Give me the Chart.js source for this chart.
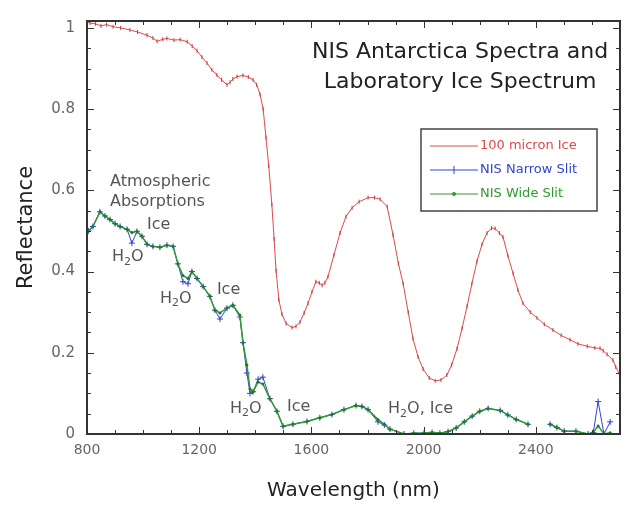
<!DOCTYPE html>
<html>
<head>
<meta charset="utf-8">
<script src="https://cdn.jsdelivr.net/npm/chart.js@4.4.0/dist/chart.umd.min.js"></script>
<style>
  html, body { margin: 0; padding: 0; background: #fff; }
  canvas { display: block; }
</style>
</head>
<body>
<canvas id="myChart" width="628" height="508"></canvas>
<script>
// 100 micron lab ice spectrum
const iceWave = [800, 811, 830, 850, 870, 893, 920, 953, 980, 1014, 1035, 1050, 1070, 1085, 1110, 1132, 1157, 1175, 1192, 1210,
  1228, 1245, 1263, 1280, 1299, 1310, 1320, 1335, 1356, 1375, 1392, 1405, 1417, 1428, 1438, 1448, 1459, 1467, 1474, 1484,
  1495, 1510, 1531, 1545, 1559, 1574, 1588, 1602, 1616, 1628, 1638, 1648, 1659, 1680, 1702, 1723, 1745, 1770, 1802, 1825,
  1845, 1870, 1891, 1910, 1927, 1945, 1962, 1980, 1998, 2020, 2041, 2062, 2083, 2100, 2119, 2137, 2155, 2172, 2190, 2208,
  2226, 2242, 2255, 2270, 2283, 2300, 2319, 2336, 2354, 2380, 2404, 2430, 2461, 2490, 2522, 2550, 2583, 2610, 2629, 2640,
  2654, 2675, 2685, 2700];
const iceRefl = [1.015, 1.012, 1.010, 1.005, 1.008, 1.003, 1.000, 0.995, 0.990, 0.982, 0.975, 0.967, 0.972, 0.974, 0.970, 0.971, 0.966, 0.955, 0.944, 0.928,
  0.913, 0.897, 0.884, 0.872, 0.860, 0.866, 0.874, 0.880, 0.883, 0.879, 0.872, 0.860, 0.836, 0.800, 0.730, 0.660, 0.565, 0.480, 0.402, 0.330,
  0.295, 0.272, 0.262, 0.265, 0.275, 0.298, 0.322, 0.350, 0.375, 0.372, 0.366, 0.372, 0.387, 0.440, 0.495, 0.535, 0.557, 0.572, 0.582, 0.582,
  0.578, 0.560, 0.490, 0.420, 0.370, 0.300, 0.235, 0.190, 0.160, 0.138, 0.131, 0.133, 0.145, 0.170, 0.210, 0.260, 0.315, 0.370, 0.425, 0.467,
  0.495, 0.507, 0.506, 0.495, 0.485, 0.440, 0.395, 0.355, 0.322, 0.300, 0.286, 0.270, 0.256, 0.243, 0.232, 0.222, 0.216, 0.212, 0.211, 0.205,
  0.196, 0.182, 0.165, 0.145];

// NIS spectra (null = gap in data)
const nisWave = [805, 821, 846, 864, 882, 900, 918, 943, 960, 978, 996, 1014, 1035, 1060, 1085, 1107, 1124, 1142, 1160, 1174,
  1192, 1214, 1238, 1256, 1274, 1299, 1320, 1345, 1356, 1370, 1381, 1392, 1410, 1427, 1452, 1477, 1499, 1534, 1584, 1630,
  1673, 1716, 1759, 1780, 1802, 1837, 1860, 1880, 1930, 1965, 2001, 2030, 2058, 2087, 2116, 2145, 2173, 2200, 2230, 2273,
  2300, 2330, 2372, 2400, 2451, 2475, 2501, 2543, 2586, 2605, 2622, 2643, 2665];
const narrowRefl = [0.500, 0.511, 0.547, 0.537, 0.528, 0.518, 0.511, 0.504, 0.470, 0.499, 0.487, 0.467, 0.462, 0.460, 0.465, 0.462, 0.419, 0.375, 0.370, 0.400,
  0.383, 0.363, 0.339, 0.305, 0.283, 0.310, 0.317, 0.288, 0.225, 0.150, 0.100, 0.104, 0.135, 0.140, 0.087, 0.056, 0.019, 0.024, 0.031, 0.040,
  0.048, 0.060, 0.070, 0.068, 0.060, 0.030, 0.022, 0.012, 0.000, 0.002, 0.002, 0.004, 0.002, 0.006, 0.015, 0.030, 0.044, 0.056, 0.063, 0.058,
  0.047, 0.036, 0.024, null, 0.024, 0.016, 0.007, 0.007, 0.000, 0.004, 0.080, 0.000, 0.030];
const wideRefl = [0.500, 0.511, 0.547, 0.537, 0.528, 0.518, 0.511, 0.504, 0.496, 0.499, 0.487, 0.467, 0.462, 0.460, 0.465, 0.462, 0.419, 0.390, 0.383, 0.400,
  0.383, 0.363, 0.339, 0.305, 0.298, 0.310, 0.317, 0.293, 0.225, 0.170, 0.111, 0.104, 0.128, 0.123, 0.087, 0.056, 0.019, 0.024, 0.031, 0.040,
  0.048, 0.060, 0.070, 0.068, 0.060, 0.036, 0.024, 0.012, 0.000, 0.002, 0.002, 0.004, 0.002, 0.006, 0.015, 0.030, 0.044, 0.056, 0.063, 0.058,
  0.047, 0.036, 0.024, null, 0.024, 0.016, 0.007, 0.007, 0.000, 0.004, 0.020, 0.000, 0.003];

const seriesNames = ['100 micron Ice', 'NIS Narrow Slit', 'NIS Wide Slit'];
const seriesColors = ['#e04848', '#3344cc', '#2f9a2f'];
const xTickValues = [800, 1200, 1600, 2000, 2400];
const yTickValues = [0, 0.2, 0.4, 0.6, 0.8, 1];

const FONT = '"DejaVu Sans", sans-serif';

// absorption labels: [text, wavelength, reflectance] (sub = subscript 2)
const notes = [
  ['Atmospheric', 882, 0.622],
  ['Absorptions', 882, 0.571],
  ['Ice', 1014, 0.516],
  ['H2O', 889, 0.436],
  ['H2O', 1060, 0.334],
  ['Ice', 1263, 0.356],
  ['H2O', 1310, 0.063],
  ['Ice', 1513, 0.068],
  ['H2O, Ice', 1873, 0.061]
];

const toPoints = (xs, ys) => xs.map((v, i) => ({x: v, y: ys[i]}));

const frameTicks = {
  id: 'frameTicks',
  afterDatasetsDraw(chart) {
    const {ctx, chartArea: a, scales: {x, y}} = chart;
    ctx.save();
    ctx.strokeStyle = '#333';
    ctx.lineWidth = 1;
    ctx.beginPath();
    for (let v = 800; v <= 2700; v += 100) {
      const px = Math.round(x.getPixelForValue(v)) + 0.5;
      const len = v % 400 === 0 ? 7 : 4;
      ctx.moveTo(px, a.bottom); ctx.lineTo(px, a.bottom - len);
      ctx.moveTo(px, a.top); ctx.lineTo(px, a.top + len);
    }
    for (let i = 0; i <= 20; i++) {
      const py = Math.round(y.getPixelForValue(i * 0.05)) + 0.5;
      const len = i % 4 === 0 ? 7 : 4;
      ctx.moveTo(a.left, py); ctx.lineTo(a.left + len, py);
      ctx.moveTo(a.right, py); ctx.lineTo(a.right - len, py);
    }
    ctx.stroke();
    ctx.lineWidth = 2;
    ctx.strokeRect(a.left, a.top, a.right - a.left, a.bottom - a.top);
    ctx.restore();
  }
};

const drawH2O = (ctx, text, px, py) => {
  // text with "2" set as subscript
  const parts = text.split('2');
  ctx.font = '16px ' + FONT;
  ctx.fillText(parts[0], px, py);
  let cx = px + ctx.measureText(parts[0]).width;
  ctx.font = '11px ' + FONT;
  ctx.fillText('2', cx, py + 5);
  cx += ctx.measureText('2').width;
  ctx.font = '16px ' + FONT;
  ctx.fillText(parts[1], cx, py);
};

const textLayer = {
  id: 'textLayer',
  afterDraw(chart) {
    const {ctx, chartArea: a, scales: {x, y}} = chart;
    ctx.save();
    // title
    ctx.fillStyle = '#222';
    ctx.font = '22px ' + FONT;
    ctx.textAlign = 'center';
    ctx.textBaseline = 'middle';
    ctx.fillText('NIS Antarctica Spectra and', x.getPixelForValue(2130), y.getPixelForValue(0.939));
    ctx.fillText('Laboratory Ice Spectrum', x.getPixelForValue(2130), y.getPixelForValue(0.867));

    // notes
    ctx.textAlign = 'left';
    ctx.fillStyle = '#555';
    notes.forEach(([t, wx, wy]) => {
      const px = x.getPixelForValue(wx), py = y.getPixelForValue(wy);
      if (t.includes('H2O')) drawH2O(ctx, t, px, py);
      else { ctx.font = '16px ' + FONT; ctx.fillText(t, px, py); }
    });

    // legend box
    const bx = a.left + 334, by = a.top + 108, bw = 176, bh = 82;
    ctx.fillStyle = '#fff';
    ctx.fillRect(bx, by, bw, bh);
    ctx.strokeStyle = '#444';
    ctx.lineWidth = 1.5;
    ctx.strokeRect(bx, by, bw, bh);
    ctx.font = '13px ' + FONT;
    seriesNames.forEach((name, i) => {
      const ly = by + 17 + i * 24;
      const c = seriesColors[i];
      ctx.strokeStyle = c;
      ctx.lineWidth = 1;
      ctx.beginPath();
      ctx.moveTo(bx + 9, ly); ctx.lineTo(bx + 57, ly);
      if (i === 1) { ctx.moveTo(bx + 33, ly - 4); ctx.lineTo(bx + 33, ly + 4); }
      ctx.stroke();
      if (i === 2) { ctx.fillStyle = c; ctx.beginPath(); ctx.arc(bx + 33, ly, 2, 0, Math.PI * 2); ctx.fill(); }
      ctx.fillStyle = c;
      ctx.fillText(name, bx + 59, ly);
    });
    ctx.restore();
  }
};

let myChart;
const setup = () => {
  const ctxt = document.getElementById('myChart').getContext('2d');
  myChart = new Chart(ctxt, {
    type: 'line',
    data: {
      datasets: [{
        label: seriesNames[0],
        data: toPoints(iceWave, iceRefl),
        borderColor: seriesColors[0],
        borderWidth: 1,
        pointStyle: 'line',
        rotation: 90,
        pointRadius: 2,
        pointBorderColor: '#c03a3a',
        pointBorderWidth: 1,
        order: 2
      }, {
        label: seriesNames[1],
        data: toPoints(nisWave, narrowRefl),
        borderColor: seriesColors[1],
        borderWidth: 1,
        pointStyle: 'cross',
        pointRadius: 3,
        pointBorderColor: seriesColors[1],
        pointBorderWidth: 1,
        order: 1
      }, {
        label: seriesNames[2],
        data: toPoints(nisWave, wideRefl),
        borderColor: seriesColors[2],
        borderWidth: 1.5,
        pointStyle: 'circle',
        pointRadius: 1.5,
        pointBackgroundColor: '#1f7a1f',
        pointBorderWidth: 0,
        order: 0
      }]
    },
    options: {
      responsive: false,
      animation: false,
      spanGaps: false,
      layout: { padding: { top: 13, right: 8, left: 0, bottom: 0 } },
      plugins: { legend: { display: false }, tooltip: { enabled: false } },
      scales: {
        x: {
          type: 'linear',
          min: 800,
          max: 2700,
          afterBuildTicks: s => { s.ticks = xTickValues.map(v => ({value: v})); },
          afterFit: s => { s.height = 74; },
          grid: { display: false, drawTicks: false },
          border: { display: false },
          ticks: { color: '#666', font: { family: FONT, size: 14 }, padding: 8, maxRotation: 0, autoSkip: false, callback: v => String(v) },
          title: { display: true, text: 'Wavelength (nm)', color: '#222', font: { family: FONT, size: 20 }, padding: { bottom: 5 } }
        },
        y: {
          min: 0,
          max: 1.017,
          afterBuildTicks: s => { s.ticks = yTickValues.map(v => ({value: v})); },
          afterFit: s => { s.width = 87; },
          grid: { display: false, drawTicks: false },
          border: { display: false },
          ticks: { color: '#666', font: { family: FONT, size: 15 }, padding: 12, callback: v => String(v) },
          title: { display: true, text: 'Reflectance', color: '#222', font: { family: FONT, size: 21 }, padding: { top: 14 } }
        }
      }
    },
    plugins: [frameTicks, textLayer]
  });
};

window.addEventListener('DOMContentLoaded', setup);
</script>
</body>
</html>
